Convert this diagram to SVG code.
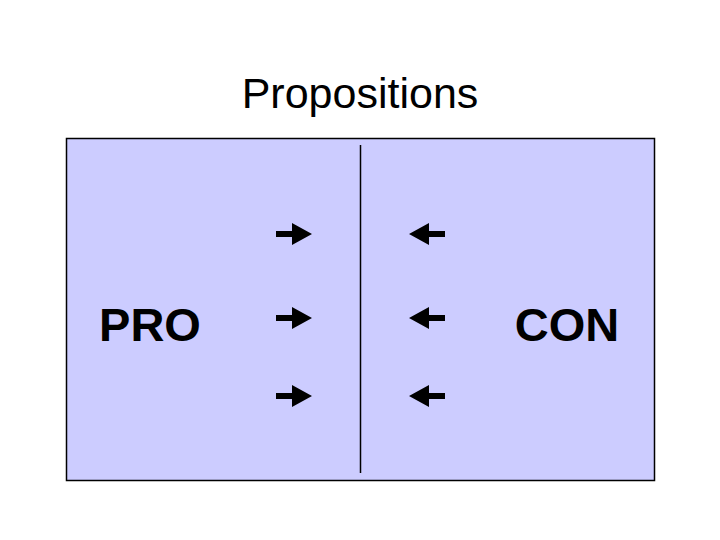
<svg xmlns="http://www.w3.org/2000/svg" width="720" height="540" viewBox="0 0 720 540">
<style>
.t{font-family:"Liberation Sans",Arial,sans-serif;fill:#000}
.big{font-size:47px;font-weight:bold}
</style>
<defs>
<path id="ar" d="M-18,-3 H-2 V-11 L18,0 L-2,11 V3 H-18 Z" fill="#000"/>
</defs>
<rect width="720" height="540" fill="#fff"/>
<text class="t" x="360" y="108" font-size="43" text-anchor="middle">Propositions</text>
<g id="panel">
<rect x="66.5" y="138.5" width="588" height="342" fill="#ccccff" stroke="#000" stroke-width="1.5"/>
<line x1="360.5" y1="145" x2="360.5" y2="473" stroke="#000" stroke-width="1.5"/>
</g>
<g id="pro"><text class="t big" x="150" y="341" text-anchor="middle">PRO</text></g>
<g id="con"><text class="t big" x="567" y="341" text-anchor="middle">CON</text></g>
<g id="connectors">
<use href="#ar" transform="translate(294,234)"/>
<use href="#ar" transform="translate(294,318)"/>
<use href="#ar" transform="translate(294,396)"/>
<use href="#ar" transform="translate(427,234) scale(-1,1)"/>
<use href="#ar" transform="translate(427,318) scale(-1,1)"/>
<use href="#ar" transform="translate(427,396) scale(-1,1)"/>
</g>
</svg>
